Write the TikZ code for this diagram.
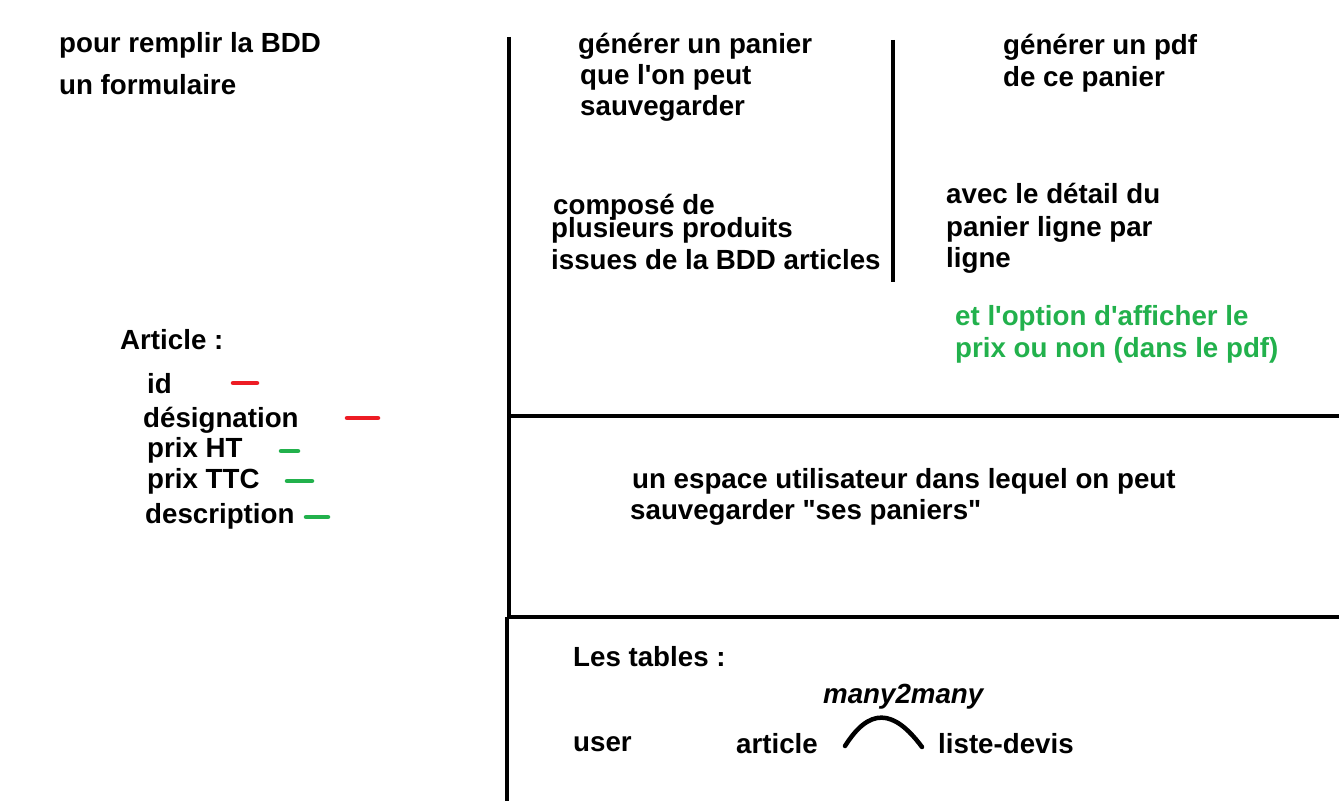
\documentclass[tikz,border=0pt]{standalone}
\usepackage{fontspec}
\newfontfamily\arialfont{Liberation Sans}
\definecolor{pgreen}{RGB}{34,177,76}
\definecolor{pred}{RGB}{237,28,36}
\tikzset{
  txt/.style={anchor=base west, inner sep=0pt, font=\arialfont\fontsize{27.7}{30}\selectfont\bfseries},
  gtxt/.style={txt, text=pgreen},
  itxt/.style={txt, font=\arialfont\fontsize{27.7}{30}\selectfont\bfseries\itshape},
  rule/.style={line width=4.5pt},
  rmark/.style={line width=4.5pt, line cap=round, pred},
  gmark/.style={line width=4.5pt, line cap=round, pgreen},
  arcline/.style={line width=4.5pt, line cap=round}
}
\begin{document}
\begin{tikzpicture}[x=1pt,y=-1pt]
\useasboundingbox[fill=white] (0,0) rectangle (1339,802);
% frame lines
\draw[rule] (509,37) -- (509,617);
\draw[rule] (507,617) -- (507,801);
\draw[rule] (893,40) -- (893,282);
\draw[rule] (509,416) -- (1339,416);
\draw[rule] (507,617) -- (1339,617);
% left texts
\node[txt] (t1) at (59,53) {pour remplir la BDD};
\node[txt] (t2) at (59,95) {un formulaire};
\node[txt] (art) at (120,349) {Article :};
\node[txt] (a1) at (147,393) {id};
\node[txt] (a2) at (143,427) {désignation};
\node[txt] (a3) at (147,457) {prix HT};
\node[txt] (a4) at (147,488) {prix TTC};
\node[txt] (a5) at (145,523) {description};
\draw[rmark] (233,383) -- (257,383);
\draw[rmark] (347,418) -- (378,418);
\draw[gmark] (281,451) -- (298,451);
\draw[gmark] (287,481) -- (312,481);
\draw[gmark] (306,517) -- (328,517);
% middle top
\node[txt] (m1) at (578,54) {générer un panier};
\node[txt] (m2) at (580,85) {que l'on peut};
\node[txt] (m3) at (580,116) {sauvegarder};
\node[txt] (m4) at (553,215) {composé de};
\node[txt] (m5) at (551,238) {plusieurs produits};
\node[txt] (m6) at (551,270) {issues de la BDD articles};
% right top
\node[txt] (r1) at (1003,55) {générer un pdf};
\node[txt] (r2) at (1003,87) {de ce panier};
\node[txt] (r3) at (946,204) {avec le détail du};
\node[txt] (r4) at (946,237) {panier ligne par};
\node[txt] (r5) at (946,268) {ligne};
\node[gtxt] (g1) at (955,326) {et l'option d'afficher le};
\node[gtxt] (g2) at (955,358) {prix ou non (dans le pdf)};
% middle band
\node[txt] (u1) at (632,488) {un espace utilisateur dans lequel on peut};
\node[txt] (u2) at (630,519) {sauvegarder "ses paniers"};
% bottom band
\node[txt] (tb) at (573,666) {Les tables :};
\node[itxt] (mm) at (823,703) {many2many};
\node[txt] (us) at (573,751) {user};
\node[txt] (ar) at (736,753) {article};
\node[txt] (ld) at (938,753) {liste-devis};
\coordinate (arcA) at (845,746);
\coordinate (arcB) at (922,747);
\draw[arcline] (arcA) .. controls (869,708) and (893,708) .. (arcB);
\end{tikzpicture}
\end{document}
